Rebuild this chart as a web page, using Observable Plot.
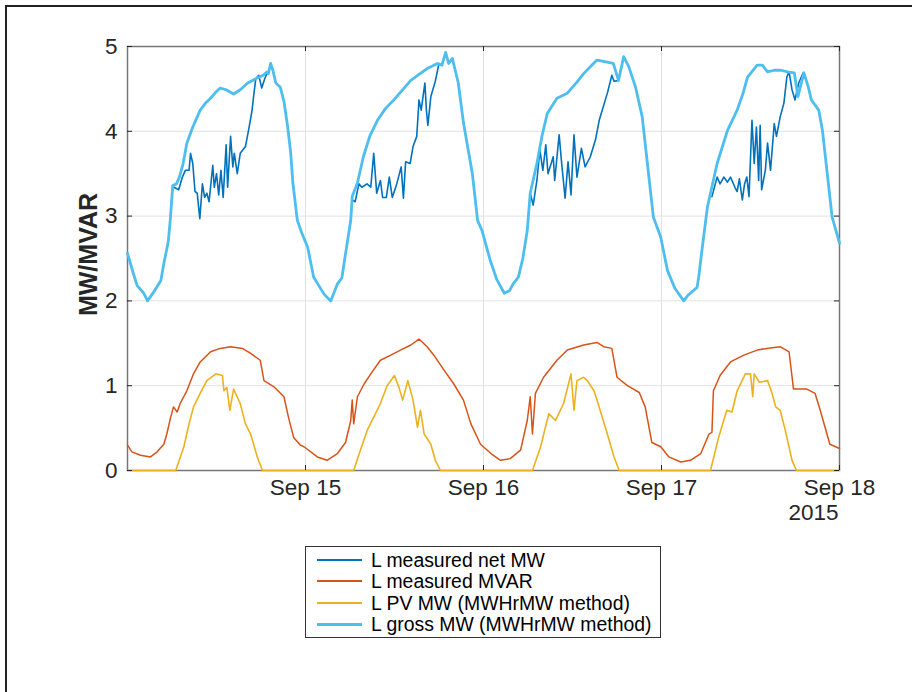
<!DOCTYPE html>
<html><head><meta charset="utf-8">
<script src="https://cdn.jsdelivr.net/npm/d3@7"></script>
<script src="https://cdn.jsdelivr.net/npm/@observablehq/plot@0.6"></script>
<style>
body{margin:0;background:#fff;font-family:"Liberation Sans",Arial,sans-serif;}
#fig{position:relative;width:912px;height:692px;overflow:hidden;background:#fff;}
#border{position:absolute;left:5px;top:5px;width:940px;height:720px;border-left:2px solid #222;border-top:2px solid #222;}
#chart{position:absolute;left:0;top:0;}
#legend{position:absolute;left:305px;top:546px;width:354px;height:90px;border:1px solid #333;background:#fff;}
.row{position:absolute;left:0;height:20px;display:flex;align-items:center;font-size:19.4px;color:#000;white-space:nowrap;}
.sw{width:45px;margin-left:11px;margin-right:9px;}
</style></head>
<body>
<div id="fig">
  <div id="border"></div>
  <div id="chart"></div>
  <div id="legend"></div>
</div>
<script>
// ---------- data (hours after 2015-09-14 00:00) ----------
const seriesNames = ["L measured net MW","L measured MVAR","L PV MW (MWHrMW method)","L gross MW (MWHrMW method)"];
const seriesColors = ["#0072BD","#D95319","#EDB120","#4DBEEE"];

const grossHours = [0,0.8,1.3,2.2,2.7,3.5,4.5,4.9,5.5,5.8,6.1,6.6,7.0,7.5,8.0,8.8,9.8,10.5,11.2,12.0,12.5,13.3,14.3,15.2,16.2,17.5,18.3,18.8,19.0,19.3,19.6,20.0,20.6,21.1,21.6,22.0,22.3,22.9,23.5,24.3,25.1,25.8,26.5,27.4,28.3,28.9,29.3,30.1,30.3,31.0,31.8,32.7,33.7,34.8,35.9,37.0,38.2,39.3,40.4,41.8,42.4,42.9,43.3,43.8,44.6,45.3,45.9,46.5,47.2,47.8,48.9,49.8,50.8,51.5,52.0,52.7,53.3,53.9,54.3,55.2,55.9,56.6,57.9,59.3,60.6,61.5,62.4,63.3,64.5,65.5,66.2,66.9,67.6,68.5,69.4,70.1,70.9,71.9,72.8,73.8,75.0,75.5,76.8,77.0,77.6,78.2,79.5,80.9,82.2,83.0,83.6,84.9,85.6,86.3,87.2,88.1,89.0,89.9,90.4,91.2,91.8,92.2,93.2,93.7,94.3,95.0,96.0];
const grossMW = [2.56,2.32,2.18,2.09,2.0,2.1,2.24,2.44,2.7,2.99,3.36,3.38,3.46,3.62,3.86,4.05,4.25,4.33,4.39,4.47,4.51,4.49,4.44,4.49,4.57,4.63,4.66,4.7,4.68,4.8,4.72,4.57,4.52,4.35,4.05,3.75,3.39,2.95,2.8,2.63,2.28,2.18,2.08,2.0,2.2,2.27,2.5,2.95,3.23,3.39,3.7,3.95,4.13,4.27,4.37,4.48,4.6,4.67,4.74,4.8,4.78,4.93,4.8,4.86,4.57,4.1,3.8,3.5,2.95,2.83,2.48,2.25,2.09,2.12,2.2,2.28,2.5,2.83,3.27,3.62,3.95,4.21,4.39,4.45,4.58,4.68,4.76,4.84,4.82,4.8,4.6,4.88,4.76,4.52,4.17,3.62,2.99,2.75,2.36,2.15,2.0,2.06,2.16,2.27,2.7,3.11,3.62,4.01,4.25,4.45,4.64,4.78,4.78,4.7,4.72,4.72,4.7,4.69,4.41,4.69,4.52,4.37,4.25,4.01,3.54,2.99,2.68];

const mvarHours = [0,0.6,1.75,3.1,4.0,4.5,4.9,5.3,5.8,6.2,6.7,7.1,8.0,8.9,9.8,11.2,12.5,13.9,15.5,16.6,17.9,18.4,19.7,21.1,21.7,22.4,23.3,23.8,25.6,26.9,28.3,29.4,30.1,30.3,30.5,31.0,31.9,32.8,34.1,35.5,36.8,38.2,39.3,40.4,41.3,42.7,44.0,45.3,46.3,47.6,49.0,50.3,51.6,53.0,53.9,54.3,54.6,55.0,56.1,57.9,59.3,61.5,63.3,64.2,65.3,66.0,67.4,69.0,69.8,70.7,71.9,73.0,74.6,75.9,77.3,78.4,78.8,79.0,79.9,81.3,83.1,84.9,86.2,88.0,89.2,89.8,91.6,92.7,93.4,94.7,96.0];
const mvar = [0.30,0.22,0.18,0.16,0.22,0.27,0.31,0.43,0.62,0.75,0.69,0.79,0.94,1.14,1.28,1.40,1.44,1.46,1.44,1.38,1.30,1.06,0.99,0.87,0.63,0.39,0.30,0.28,0.16,0.12,0.20,0.33,0.59,0.83,0.55,0.87,1.02,1.14,1.30,1.36,1.42,1.48,1.55,1.46,1.36,1.18,1.02,0.83,0.55,0.31,0.20,0.12,0.14,0.24,0.59,0.87,0.43,0.91,1.10,1.30,1.42,1.48,1.51,1.46,1.44,1.10,1.00,0.92,0.75,0.33,0.28,0.16,0.10,0.12,0.20,0.43,0.45,0.94,1.12,1.28,1.36,1.42,1.44,1.46,1.40,0.96,0.96,0.91,0.71,0.31,0.26];

const pvHours = [0,6.5,7.6,8.3,8.9,9.8,10.7,11.9,12.8,13.0,13.4,13.8,14.3,15.2,15.9,16.6,17.5,18.2,30.5,31.4,32.3,33.2,34.1,35.0,36.0,36.6,37.1,37.8,38.5,39.1,39.5,40.0,40.9,41.5,42.2,54.6,55.7,56.8,57.7,58.8,59.8,60.2,60.6,61.5,62.0,62.9,63.3,64.7,65.6,66.3,78.6,79.7,80.8,81.5,82.2,83.3,84.0,84.3,84.5,85.2,86.3,86.9,87.4,88.0,88.7,89.6,90.2,96];
const pvMW = [0,0,0.28,0.55,0.75,0.91,1.06,1.14,1.12,0.94,0.98,0.71,0.96,0.79,0.55,0.43,0.16,0,0,0.24,0.47,0.63,0.79,1.00,1.12,0.98,0.83,1.06,0.83,0.51,0.71,0.43,0.31,0.12,0,0,0.28,0.67,0.59,0.79,1.14,0.71,1.06,1.10,1.06,0.94,0.83,0.43,0.16,0,0,0.39,0.71,0.69,0.94,1.14,1.14,0.87,1.14,1.04,1.06,0.91,0.75,0.71,0.47,0.12,0,0];

// net MW where it departs from gross (null = break between days)
const netHours = [6.25,6.9,7.4,7.8,8.3,8.5,8.8,9.1,9.4,9.75,10.1,10.4,10.7,11.0,11.5,11.7,12.0,12.3,12.6,12.9,13.3,13.5,13.9,14.2,14.4,14.8,15.2,15.9,16.4,16.8,17.0,17.3,17.7,18.1,18.5,18.8,null,
  30.3,30.7,31.2,31.6,32.3,32.8,33.2,33.6,34.1,34.4,34.9,35.3,35.7,36.3,36.9,37.2,37.5,38.1,38.5,39.0,39.3,39.6,40.1,40.3,40.5,40.9,41.5,42.0,null,
  54.3,54.7,55.2,55.6,56.0,56.4,56.7,57.4,57.6,58.2,58.5,59.0,59.4,59.8,60.2,60.6,61.2,61.7,62.4,63.1,63.6,64.7,65.3,65.6,66.2,null,
  78.8,79.5,79.9,80.4,80.9,81.3,81.9,82.2,82.5,82.9,83.2,83.5,83.8,84.2,84.5,84.8,85.1,85.3,85.5,86.0,86.3,86.7,87.2,87.5,88.0,88.5,88.9,89.2,89.6,90.0,90.5,91.1];
const netMW = [3.34,3.31,3.46,3.54,3.54,3.74,3.62,3.29,3.27,2.97,3.38,3.22,3.27,3.17,3.60,3.34,3.50,3.25,3.54,3.22,3.84,3.34,3.94,3.58,3.74,3.50,3.74,3.82,4.05,4.25,4.41,4.62,4.66,4.51,4.62,4.68,null,
  3.19,3.17,3.38,3.34,3.38,3.34,3.74,3.27,3.42,3.22,3.22,3.46,3.22,3.38,3.58,3.21,3.64,3.62,3.82,3.94,4.37,4.25,4.57,4.25,4.07,4.41,4.59,4.80,null,
  3.27,3.13,3.42,3.78,3.54,3.84,3.50,3.70,3.42,3.96,3.66,3.21,3.64,3.25,3.96,3.46,3.80,3.58,3.70,3.90,4.13,4.45,4.66,4.59,4.60,null,
  3.23,3.46,3.38,3.46,3.40,3.46,3.34,3.29,3.44,3.19,3.38,3.46,3.23,4.13,3.62,4.05,3.42,4.07,3.31,3.54,3.86,3.54,4.09,3.94,4.17,4.33,4.64,4.70,4.49,4.37,4.57,4.69];

const xTickDays = ["2015-09-15","2015-09-16","2015-09-17","2015-09-18"];
const yTicks = [0,1,2,3,4,5];
const xStart = "2015-09-14", xEnd = "2015-09-18";

// ---------- build ----------
const t0 = Date.parse(xStart + "T00:00:00Z");
const toDate = h => (h == null ? null : new Date(t0 + h * 3600e3));
const rows = (hs, vs) => hs.map((h, i) => ({t: toDate(h), v: vs[i]}));
const xTickDates = xTickDays.map(d => new Date(d + "T00:00:00Z"));

const W = 912, H = 530, mL = 127, mR = 73, mT = 46, mB = 60;
const fw = W - mL - mR, fh = H - mT - mB;
const font = '"Liberation Sans", Arial, sans-serif';

const chart = Plot.plot({
  width: W, height: H,
  marginLeft: mL, marginRight: mR, marginTop: mT, marginBottom: mB,
  style: {fontFamily: font, fontSize: "22px", color: "#262626", background: "transparent", overflow: "visible"},
  x: {type: "utc", domain: [new Date(xStart + "T00:00:00Z"), new Date(xEnd + "T00:00:00Z")]},
  y: {domain: [0, 5]},
  marks: [
    Plot.gridX(xTickDates, {stroke: "#e2e2e2", strokeOpacity: 1, strokeWidth: 1}),
    Plot.gridY(yTicks, {stroke: "#e2e2e2", strokeOpacity: 1, strokeWidth: 1}),
    Plot.frame({stroke: "#777", strokeWidth: 1.5}),
    Plot.line(rows(netHours, netMW), {x: "t", y: "v", stroke: seriesColors[0], strokeWidth: 1.6}),
    Plot.line(rows(mvarHours, mvar), {x: "t", y: "v", stroke: seriesColors[1], strokeWidth: 1.5}),
    Plot.line(rows(pvHours, pvMW), {x: "t", y: "v", stroke: seriesColors[2], strokeWidth: 1.6}),
    Plot.line(rows(grossHours, grossMW), {x: "t", y: "v", stroke: seriesColors[3], strokeWidth: 2.8, strokeLinejoin: "round"}),
    Plot.tickX(xTickDates, {x: d => d, insetTop: fh - 5, stroke: "#262626"}),
    Plot.tickX(xTickDates, {x: d => d, insetBottom: fh - 5, stroke: "#262626"}),
    Plot.tickY(yTicks, {y: d => d, insetRight: fw - 5, stroke: "#262626"}),
    Plot.tickY(yTicks, {y: d => d, insetLeft: fw - 5, stroke: "#262626"}),
    Plot.axisX(xTickDates, {tickSize: 0, tickPadding: 9, tickFormat: d3.utcFormat("%b %-d"), fontSize: 22.5, label: null, fill: "#262626"}),
    Plot.axisY(yTicks, {tickSize: 0, tickPadding: 10, tickFormat: d3.format("d"), fontSize: 22.5, label: null, fill: "#262626"}),
    Plot.text(["2015"], {frameAnchor: "bottom-right", textAnchor: "end", lineAnchor: "top", dy: 34, dx: -1, fontSize: 22.5, fill: "#262626"}),
    Plot.text(["MW/MVAR"], {frameAnchor: "left", textAnchor: "middle", rotate: -90, dx: -39, dy: -4, fontWeight: "bold", fontSize: 25, fill: "#262626"})
  ]
});
document.getElementById("chart").appendChild(chart);

// legend
const lg = document.getElementById("legend");
const centers = [13, 34, 56, 77];
seriesNames.forEach((name, i) => {
  const r = document.createElement("div");
  r.className = "row";
  r.style.top = (centers[i] - 10) + "px";
  const sw = document.createElement("div");
  sw.className = "sw";
  sw.style.borderTop = (i === 3 ? 3 : 2) + "px solid " + seriesColors[i];
  const tx = document.createElement("span");
  tx.textContent = name;
  r.appendChild(sw); r.appendChild(tx);
  lg.appendChild(r);
});
</script>
</body></html>
